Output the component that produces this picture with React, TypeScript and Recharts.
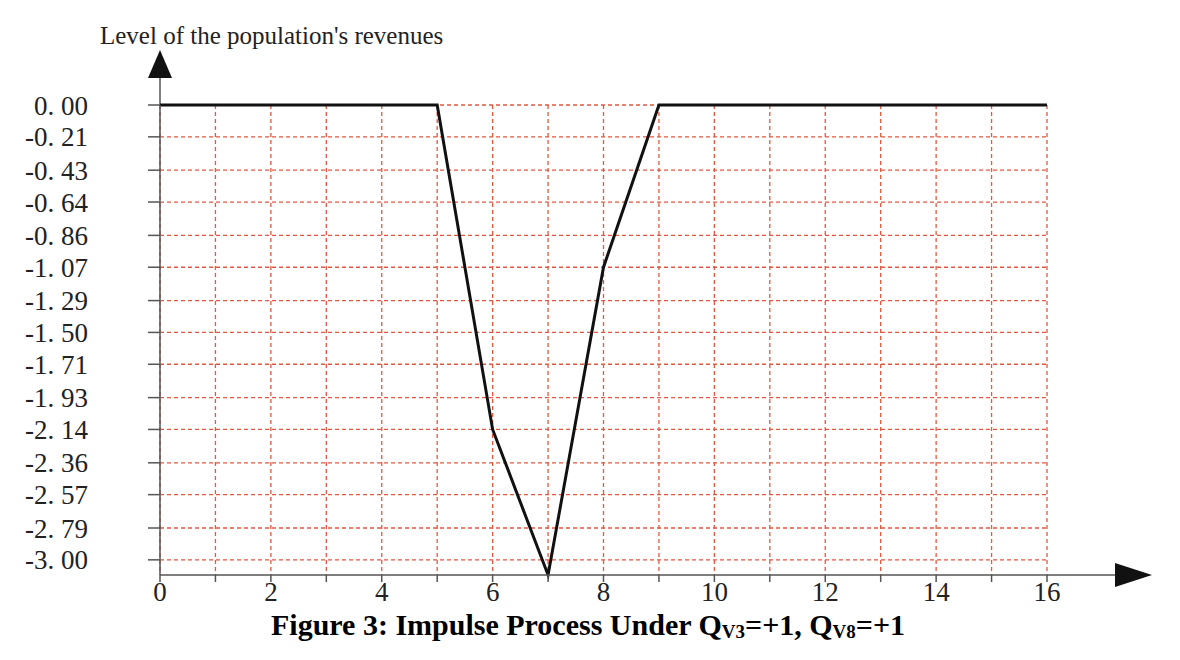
import React from "react";
import {
  LineChart,
  Line,
  XAxis,
  YAxis,
  CartesianGrid,
  Customized,
} from "recharts";

// time steps of the impulse process
const steps = [0, 1, 2, 3, 4, 5, 6, 7, 8, 9, 10, 11, 12, 13, 14, 15, 16];
// level of the population's revenues at each step
const revenues = [0, 0, 0, 0, 0, 0, -2.14, -3.1, -1.07, 0, 0, 0, 0, 0, 0, 0, 0];

const yTicks = [
  0, -0.21, -0.43, -0.64, -0.86, -1.07, -1.29, -1.5, -1.71, -1.93, -2.14,
  -2.36, -2.57, -2.79, -3.0,
];
const xTicks = steps;

const data = steps.map((s, i) => ({ step: s, value: revenues[i] }));

const W = 1180;
const H = 660;
const X_AXIS_H = 40;
const Y_AXIS_W = 160;
const M = { top: 105, right: 133, left: 0, bottom: 85 - X_AXIS_H };
const FONT = "'Liberation Serif', 'Times New Roman', serif";

// plot box edges (from the margins above)
const plotLeft = M.left + Y_AXIS_W;
const plotRight = W - M.right;
const plotTop = M.top;
const plotBottom = H - M.bottom - X_AXIS_H;

function Decorations() {
  return (
    <g>
      {/* y axis extension + arrow */}
      <line x1={plotLeft} y1={plotTop} x2={plotLeft} y2={76} stroke="#555" strokeWidth={1.5} />
      <polygon
        points={`${plotLeft - 12},${78} ${plotLeft + 12},${78} ${plotLeft},${50}`}
        fill="#111"
      />
      {/* x axis extension + arrow */}
      <line x1={plotRight} y1={plotBottom} x2={1118} y2={plotBottom} stroke="#555" strokeWidth={1.5} />
      <polygon
        points={`${1115},${plotBottom - 12} ${1115},${plotBottom + 12} ${1152},${plotBottom}`}
        fill="#111"
      />
      <text x={100} y={44} fontFamily={FONT} fontSize={25} fill="#222">
        Level of the population's revenues
      </text>
      <text
        x={588}
        y={635}
        textAnchor="middle"
        fontFamily={FONT}
        fontSize={30}
        fontWeight="bold"
        fill="#000"
      >
        Figure 3: Impulse Process Under Q
        <tspan fontSize={19} dy={3}>V3</tspan>
        <tspan dy={-3}>=+1, Q</tspan>
        <tspan fontSize={19} dy={3}>V8</tspan>
        <tspan dy={-3}>=+1</tspan>
      </text>
    </g>
  );
}

export default function App() {
  return (
    <div style={{ position: "absolute", left: 0, top: 0, width: W, height: H, background: "#fff" }}>
      <LineChart width={W} height={H} data={data} margin={M}>
        <CartesianGrid
          stroke="#e5573f"
          strokeDasharray="4 3"
          strokeWidth={1.3}
          horizontalValues={yTicks}
          verticalValues={xTicks}
        />
        <XAxis
          dataKey="step"
          type="number"
          domain={[0, 16]}
          ticks={xTicks}
          interval={0}
          height={X_AXIS_H}
          tickFormatter={(v: number) => (v % 2 === 0 ? String(v) : "")}
          tickSize={7}
          tickMargin={0}
          axisLine={{ stroke: "#555", strokeWidth: 1.5 }}
          tickLine={{ stroke: "#555", strokeWidth: 1.5 }}
          tick={{ fill: "#222", fontFamily: FONT, fontSize: 27 }}
        />
        <YAxis
          type="number"
          domain={[-3.1, 0]}
          ticks={yTicks}
          interval={0}
          width={Y_AXIS_W}
          tickSize={12}
          tickMargin={60}
          tickFormatter={(v: number) => v.toFixed(2).replace(".", ". ")}
          axisLine={{ stroke: "#555", strokeWidth: 1.5 }}
          tickLine={{ stroke: "#555", strokeWidth: 1.5 }}
          tick={{ fill: "#222", fontFamily: FONT, fontSize: 27 }}
        />
        <Line
          type="linear"
          dataKey="value"
          stroke="#111"
          strokeWidth={3}
          dot={false}
          isAnimationActive={false}
        />
        <Customized component={Decorations} />
      </LineChart>
    </div>
  );
}
